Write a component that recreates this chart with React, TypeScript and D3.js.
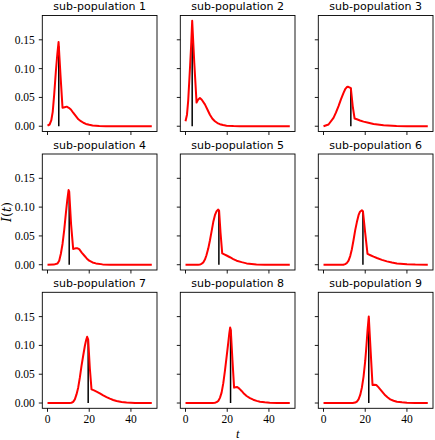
import React from 'react';
import * as d3 from 'd3';

type Pt = [number, number];

const titles = [
  'sub-population 1', 'sub-population 2', 'sub-population 3',
  'sub-population 4', 'sub-population 5', 'sub-population 6',
  'sub-population 7', 'sub-population 8', 'sub-population 9',
];

const sp1: Pt[] = [[0,0.001],[1,0.003],[1.8,0.01],[2.5,0.025],[3.2,0.055],[4,0.095],[4.7,0.125],[5.3,0.146],[6.2,0.09],[7.2,0.032],[8.2,0.033],[9.2,0.034],[10.2,0.032],[11.2,0.029],[12.4,0.023],[13.6,0.0174],[14.8,0.012],[16,0.0087],[17.2,0.006],[18.4,0.004],[20,0.0025],[21.6,0.0012],[24.8,0.0003],[28,0],[50,0]];
const sp2: Pt[] = [[0,0.0087],[0.7,0.02],[1.3,0.045],[2.2,0.105],[2.7,0.14],[3.2,0.183],[4.2,0.11],[5.3,0.041],[6,0.046],[6.9,0.049],[7.8,0.046],[9.3,0.038],[10.5,0.029],[11.7,0.02],[12.9,0.013],[14.1,0.0087],[15.3,0.0055],[16.5,0.0035],[18,0.002],[19.7,0.001],[23,0.0002],[26,0],[50,0]];
const sp3: Pt[] = [[0,0],[2.4,0.003],[4.8,0.0145],[6,0.024],[7.2,0.035],[8.4,0.047],[9.6,0.058],[10.5,0.065],[11.2,0.068],[11.7,0.0685],[12.4,0.0675],[13.1,0.066],[14,0.035],[14.9,0.0134],[16,0.012],[17.5,0.01],[19.2,0.008],[21.5,0.006],[24,0.004],[28.8,0.0017],[35,0.0005],[40,0.0001],[50,0]];
const sp4: Pt[] = [[0,0],[3,0.0002],[4.8,0.002],[5.6,0.007],[6.4,0.019],[7.2,0.036],[8,0.06],[8.8,0.089],[9.5,0.113],[10.1,0.1296],[10.4,0.127],[11.3,0.07],[12.3,0.0274],[13,0.028],[13.6,0.0286],[14.4,0.0285],[15.2,0.027],[16.4,0.021],[17.6,0.016],[18.8,0.011],[20,0.007],[21.6,0.004],[23.2,0.0023],[26.4,0.0006],[30,0],[50,0]];
const sp5: Pt[] = [[0,0],[6,0],[6.9,0.0005],[7.7,0.0015],[8.5,0.004],[9.3,0.009],[10,0.016],[10.9,0.028],[11.7,0.042],[12.5,0.058],[13.3,0.074],[14.1,0.086],[14.9,0.093],[15.7,0.0957],[16.1,0.094],[16.8,0.055],[17.6,0.0198],[18.6,0.018],[19.7,0.016],[21.3,0.013],[22.9,0.0098],[24.5,0.007],[26.9,0.0045],[29.3,0.0023],[34,0.0006],[38,0.0001],[50,0]];
const sp6: Pt[] = [[0,0],[9.5,0],[10.4,0.001],[11.2,0.003],[12,0.007],[12.8,0.015],[13.6,0.027],[14.4,0.043],[15.2,0.06],[16,0.074],[16.8,0.086],[17.5,0.092],[18.4,0.0946],[18.9,0.093],[20,0.055],[21.1,0.0187],[22.5,0.0165],[24,0.014],[25.6,0.0117],[28,0.0085],[30.4,0.0058],[32.8,0.0038],[35.2,0.0023],[40,0.0008],[44,0.0002],[50,0]];
const sp7: Pt[] = [[0,0],[10.5,0],[11.5,0.0005],[12.3,0.002],[13.1,0.0064],[13.9,0.015],[14.7,0.0267],[15.5,0.044],[16.3,0.0645],[17.1,0.082],[17.9,0.099],[18.5,0.109],[19,0.115],[19.5,0.11],[20.3,0.06],[21.1,0.0238],[22.3,0.022],[23.5,0.0198],[25.1,0.0168],[26.7,0.0134],[28.3,0.0104],[29.9,0.0076],[31.5,0.0053],[33.1,0.0035],[35.5,0.0018],[37.9,0.001],[42,0.0002],[50,0]];
const sp8: Pt[] = [[0,0],[13,0],[14.1,0.0005],[14.9,0.0015],[15.7,0.0035],[16.5,0.009],[17.3,0.018],[18.1,0.034],[18.9,0.056],[19.7,0.08],[20.5,0.105],[21,0.121],[21.4,0.131],[21.7,0.127],[22.5,0.075],[23.3,0.0267],[24,0.0275],[24.8,0.028],[25.8,0.025],[26.9,0.021],[28.1,0.016],[29.3,0.0122],[30.9,0.0085],[32.5,0.0058],[34.1,0.0037],[35.7,0.0023],[38,0.0012],[40.4,0.0006],[44,0.0001],[50,0]];
const sp9: Pt[] = [[0,0],[14,0],[15.2,0.0008],[16,0.0025],[16.8,0.0064],[17.6,0.014],[18.4,0.0267],[19.2,0.046],[20,0.073],[20.6,0.1],[21.1,0.1256],[21.7,0.15],[22.6,0.09],[23.5,0.0314],[24.4,0.0318],[25.3,0.0314],[26.2,0.028],[27.2,0.0238],[28.4,0.0185],[29.6,0.0134],[30.8,0.0095],[32,0.0064],[33.6,0.004],[35.2,0.0023],[37.6,0.0012],[40,0.0006],[44,0.0001],[50,0]];

const series = [sp1, sp2, sp3, sp4, sp5, sp6, sp7, sp8, sp9];

const interventionT = [5.4, 3.2, 13.1, 10.4, 16.0, 18.9, 19.5, 21.6, 21.7];
const interventionI = [0.139, 0.172, 0.066, 0.126, 0.094, 0.093, 0.110, 0.127, 0.147];

const xTicks = [0, 20, 40];
const yTicks = [0, 0.05, 0.1, 0.15];

const colLeft = [42.3, 180.3, 318.3];
const rowTop = [15.5, 154, 292.3];
const panelW = 114.7;
const panelH = 116;

const serif = '"Liberation Serif", "DejaVu Serif", serif';
const sans = '"DejaVu Sans", sans-serif';

function Panel({ idx }: { idx: number }) {
  const r = Math.floor(idx / 3);
  const c = idx % 3;
  const x0 = colLeft[c];
  const y0 = rowTop[r];
  const x = d3.scaleLinear().domain([-2.5, 52.5]).range([x0, x0 + panelW]);
  const y = d3.scaleLinear().domain([-0.00915, 0.1922]).range([y0 + panelH, y0]);
  const line = d3.line<Pt>().x(d => x(d[0])).y(d => y(d[1]));
  const yb = y0 + panelH;
  return (
    <g>
      <text x={x0 + panelW / 2} y={y0 - 5.5} textAnchor="middle" fontFamily={sans} fontSize={11}>
        {titles[idx]}
      </text>
      <line x1={x(interventionT[idx])} x2={x(interventionT[idx])} y1={y(0)} y2={y(interventionI[idx])}
        stroke="#000" strokeWidth={1.5} />
      <path d={line(series[idx]) || ''} fill="none" stroke="#ff0000" strokeWidth={2} strokeLinejoin="round" />
      <rect x={x0} y={y0} width={panelW} height={panelH} fill="none" stroke="#000" strokeWidth={0.9} />
      {yTicks.map(v => (
        <g key={'y' + v}>
          <line x1={x0 - 3.5} x2={x0} y1={y(v)} y2={y(v)} stroke="#000" strokeWidth={0.9} />
          {c === 0 && (
            <text x={x0 - 7.5} y={y(v)} dy="0.35em" textAnchor="end" fontFamily={serif} fontSize={11.5}>
              {d3.format('.2f')(v)}
            </text>
          )}
        </g>
      ))}
      {xTicks.map(v => (
        <g key={'x' + v}>
          <line x1={x(v)} x2={x(v)} y1={yb} y2={yb + 3.5} stroke="#000" strokeWidth={0.9} />
          {r === 2 && (
            <text x={x(v)} y={yb + 15} textAnchor="middle" fontFamily={serif} fontSize={11.5}>
              {v}
            </text>
          )}
        </g>
      ))}
    </g>
  );
}

export default function App() {
  return (
    <svg width={435} height={440} style={{ position: 'absolute', left: 0, top: 0, background: '#fff' }}>
      <rect width={435} height={440} fill="#fff" />
      {titles.map((_, i) => <Panel key={i} idx={i} />)}
      <text x={colLeft[1] + panelW / 2} y={438} textAnchor="middle" fontFamily={serif} fontStyle="italic" fontSize={12.5}>t</text>
      <text transform={`translate(11, ${rowTop[1] + panelH / 2}) rotate(-90)`} textAnchor="middle"
        fontFamily='"DejaVu Serif", serif' fontSize={12.5}>
        <tspan fontStyle="italic">I</tspan>(<tspan fontStyle="italic">t</tspan>)
      </text>
    </svg>
  );
}
